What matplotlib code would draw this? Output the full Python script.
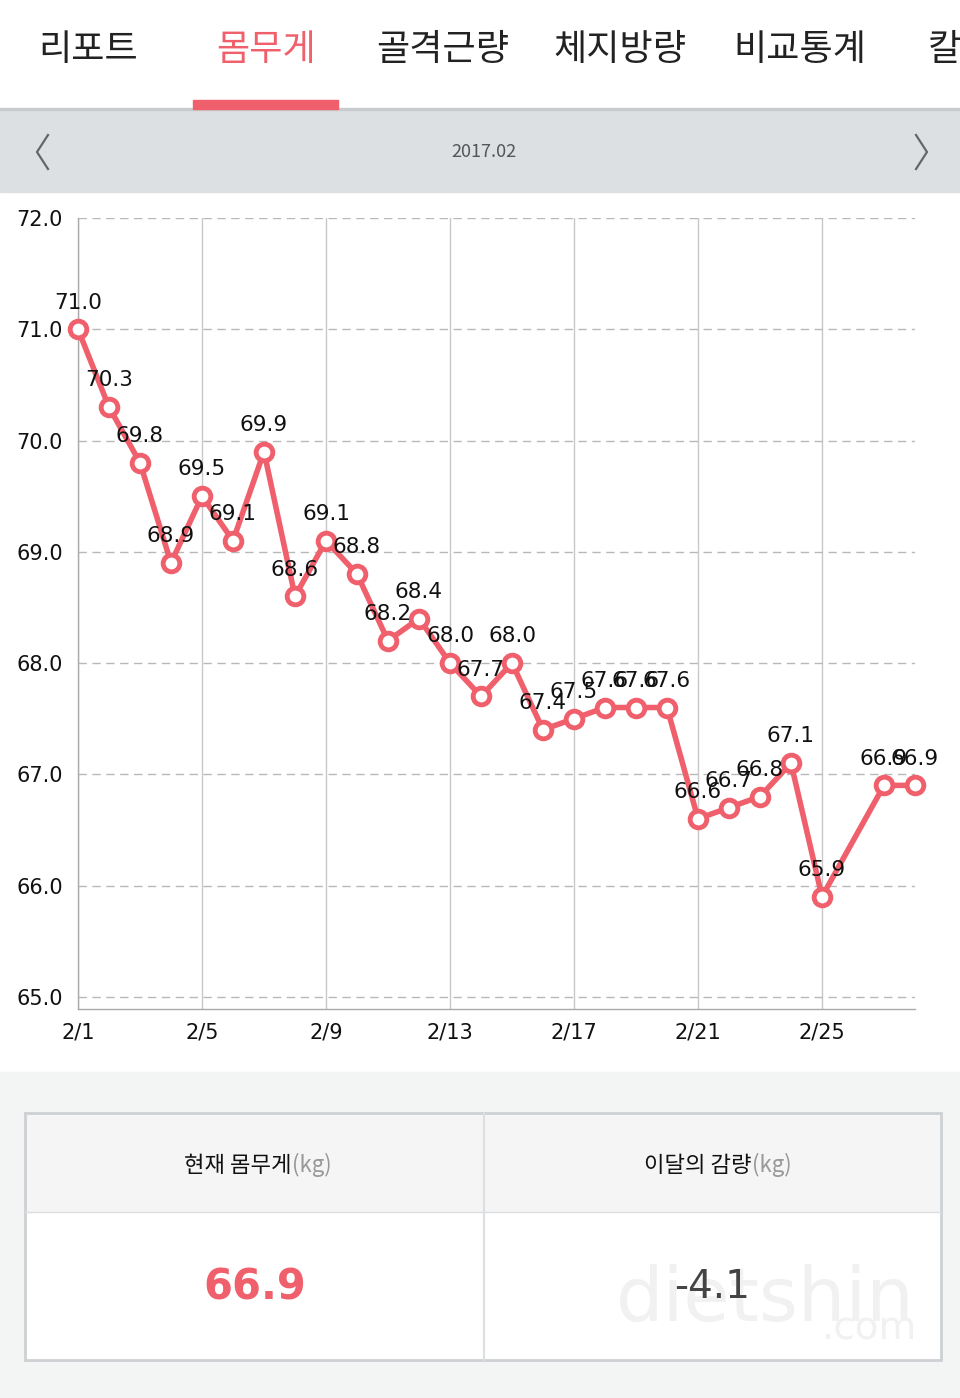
import matplotlib
matplotlib.use('Agg')
import matplotlib.pyplot as plt
from matplotlib.patches import Rectangle

plt.rcParams['font.family'] = ['Noto Sans CJK KR', 'DejaVu Sans']

# data
tabs = ['리포트', '몸무게', '골격근량', '체지방량', '비교통계', '칼로리']
month_label = '2017.02'
days = [1, 2, 3, 4, 5, 6, 7, 8, 9, 10, 11, 12, 13, 14, 15, 16, 17, 18, 19, 20,
        21, 22, 23, 24, 25, 27, 28]
weights = [71.0, 70.3, 69.8, 68.9, 69.5, 69.1, 69.9, 68.6, 69.1, 68.8, 68.2, 68.4,
           68.0, 67.7, 68.0, 67.4, 67.5, 67.6, 67.6, 67.6, 66.6, 66.7, 66.8, 67.1,
           65.9, 66.9, 66.9]
xtick_days = [1, 5, 9, 13, 17, 21, 25]
yticks = [65.0, 66.0, 67.0, 68.0, 69.0, 70.0, 71.0, 72.0]
current_weight = '66.9'
month_change = '-4.1'

PINK = '#f0606c'
W, H = 960, 1398

fig = plt.figure(figsize=(W / 100, H / 100), dpi=100)

# background layer in pixel coords
bg = fig.add_axes([0, 0, 1, 1])
bg.set_xlim(0, W)
bg.set_ylim(H, 0)
bg.axis('off')

# tab bar
bg.add_patch(Rectangle((0, 110), W, 82, color='#dde0e3'))
bg.add_patch(Rectangle((0, 108), W, 2, color='#c9cccf'))
bg.add_patch(Rectangle((0, 1072), W, H - 1072, color='#f3f4f4'))
bg.add_patch(Rectangle((193, 100), 145, 9, color=PINK))

tab_x = [88, 266, 443, 620, 800, 978]
for t, x in zip(tabs, tab_x):
    bg.text(x, 50, t, fontsize=26, ha='center', va='center',
            color=PINK if t == '몸무게' else '#222222')

# month selector
bg.plot([48, 37, 48], [135, 152, 169], color='#666666', lw=1.6)
bg.plot([916, 927, 916], [135, 152, 169], color='#666666', lw=1.6)
bg.text(484, 152, month_label, fontsize=13, ha='center', va='center', color='#555555')

# summary table
bg.add_patch(Rectangle((25, 1113), 916, 99, facecolor='#f5f5f5', edgecolor='none'))
bg.add_patch(Rectangle((25, 1212), 916, 148, facecolor='white', edgecolor='none'))
bg.add_patch(Rectangle((25, 1113), 916, 247, facecolor='none', edgecolor='#cdd1d3', lw=2))
bg.plot([25, 941], [1212, 1212], color='#dcdfe1', lw=1)
bg.plot([484, 484], [1113, 1360], color='#dcdfe1', lw=1.5)

bg.text(292, 1165, '현재 몸무게', fontsize=16, ha='right', va='center', color='#111111')
bg.text(292, 1165, '(kg)', fontsize=16, ha='left', va='center', color='#999999')
bg.text(752, 1165, '이달의 감량', fontsize=16, ha='right', va='center', color='#111111')
bg.text(752, 1165, '(kg)', fontsize=16, ha='left', va='center', color='#999999')
bg.text(765, 1300, 'dietshin', fontsize=54, ha='center', va='center',
        color='#f1f1f1', family=['DejaVu Sans Condensed', 'DejaVu Sans'])
bg.text(870, 1328, '.com', fontsize=28, ha='center', va='center',
        color='#f1f1f1', family=['DejaVu Sans Condensed', 'DejaVu Sans'])
bg.text(255, 1287, current_weight, fontsize=30, ha='center', va='center',
        color=PINK, fontweight='bold', family=['DejaVu Sans'])
bg.text(712, 1287, month_change, fontsize=28, ha='center', va='center',
        color='#444444', family=['DejaVu Sans'])

# chart
left, right, top, bottom = 78, 915, 218, 1009
ax = fig.add_axes([left / W, (H - bottom) / H, (right - left) / W, (bottom - top) / H])
ax.set_facecolor('none')
ax.set_xlim(1, 28)
ax.set_ylim(64.89, 72.0)

for d in xtick_days:
    ax.axvline(d, color='#c8c8c8', lw=1, zorder=1)
for y in yticks:
    ax.axhline(y, color='#b8b8b8', lw=1, ls=(0, (6, 4)), zorder=1)

ax.plot(days, weights, color=PINK, lw=4, marker='o', markersize=12,
        markerfacecolor='white', markeredgecolor=PINK, markeredgewidth=3.5,
        zorder=3, clip_on=False)
for d, w in zip(days, weights):
    ax.annotate(f'{w:.1f}', (d, w), xytext=(0, 12), textcoords='offset points',
                ha='center', va='bottom', fontsize=15.5, color='#111111',
                family=['DejaVu Sans'], zorder=4)

ax.set_xticks(xtick_days)
ax.set_xticklabels([f'2/{d}' for d in xtick_days], family=['DejaVu Sans'], fontsize=15)
ax.set_yticks(yticks)
ax.set_yticklabels([f'{y:.1f}' for y in yticks], family=['DejaVu Sans'], fontsize=15)
ax.tick_params(length=0, colors='#111111', pad=11)
ax.tick_params(axis='x', pad=10)

for s in ['top', 'right']:
    ax.spines[s].set_visible(False)
for s in ['left', 'bottom']:
    ax.spines[s].set_color('#aaaaaa')
    ax.spines[s].set_linewidth(1)

fig.savefig('out.png', dpi=100)
